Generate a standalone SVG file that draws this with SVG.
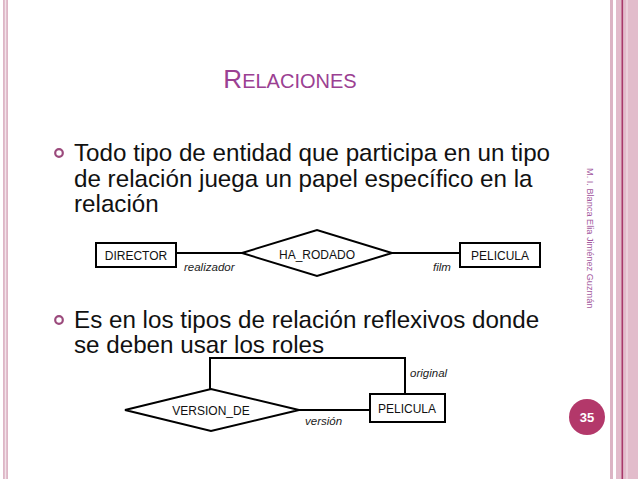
<svg xmlns="http://www.w3.org/2000/svg" width="638" height="479" viewBox="0 0 638 479">
<style>
.body{font-family:"Liberation Sans",Arial,sans-serif;font-size:24.2px;fill:#111}
.er{font-family:"Liberation Sans",Arial,sans-serif;font-size:12px;fill:#111}
.role{font-family:"Liberation Sans",Arial,sans-serif;font-size:11.5px;font-style:italic;fill:#222}
.shape{fill:#fff;stroke:#000;stroke-width:2}
.conn{fill:none;stroke:#000;stroke-width:2}
.bullet{fill:none;stroke:#9b4a7c;stroke-width:2.2}
</style>
<rect width="638" height="479" fill="#fff"/>
<!-- borders -->
<rect x="3" y="0" width="5" height="479" fill="#ddb6c6"/>
<rect x="4.8" y="0" width="1.4" height="479" fill="#f3e3ea"/>
<rect x="610" y="0" width="3" height="479" fill="#dcb4c4"/>
<rect x="616" y="0" width="22" height="479" fill="#e2bccb"/>
<rect x="621.5" y="0" width="1.6" height="479" fill="#a8386a"/>
<rect x="626" y="0" width="2" height="479" fill="#ebd0db"/>
<!-- title -->
<text x="290" y="88" text-anchor="middle" font-family="'Liberation Sans',Arial,sans-serif" fill="#9b4092" font-size="20"><tspan font-size="26">R</tspan>ELACIONES</text>
<!-- bullets -->
<circle class="bullet" cx="59" cy="153" r="3.8"/>
<text class="body" x="74" y="161">Todo tipo de entidad que participa en un tipo</text>
<text class="body" x="74" y="187">de relación juega un papel específico en la</text>
<text class="body" x="74" y="212">relación</text>
<circle class="bullet" cx="59" cy="320" r="3.8"/>
<text class="body" x="74" y="328">Es en los tipos de relación reflexivos donde</text>
<text class="body" x="74" y="353">se deben usar los roles</text>
<!-- side text -->
<text transform="translate(587,168) rotate(90)" font-family="'Liberation Sans',Arial,sans-serif" font-size="9.2" fill="#a45aa0">M. I. Blanca Elia Jiménez Guzmán</text>
<circle cx="587" cy="417" r="18" fill="#b3386a"/>
<text x="587" y="422" text-anchor="middle" font-family="'Liberation Sans',Arial,sans-serif" font-size="13" font-weight="bold" fill="#fff">35</text>
<!-- connectors -->
<g id="connectors">
<line class="conn" x1="176" y1="253" x2="242" y2="253"/>
<line class="conn" x1="392" y1="253" x2="460" y2="253"/>
<polyline class="conn" points="210,389 210,358 405,358 405,394"/>
<line class="conn" x1="299" y1="410" x2="370" y2="410"/>
</g>
<g id="director">
<rect class="shape" x="96" y="243" width="80" height="24"/>
<text class="er" x="136" y="260" text-anchor="middle">DIRECTOR</text>
</g>
<g id="ha_rodado">
<polygon class="shape" points="242,253 317,230 392,253 317,276"/>
<text class="er" x="317" y="259" text-anchor="middle">HA_RODADO</text>
</g>
<g id="pelicula1">
<rect class="shape" x="460" y="243" width="80" height="24"/>
<text class="er" x="500" y="260" text-anchor="middle">PELICULA</text>
</g>
<text class="role" x="184" y="271">realizador</text>
<text class="role" x="433" y="271">film</text>
<g id="version_de">
<polygon class="shape" points="125,410 211,389 299,410 211,431"/>
<text class="er" x="211" y="415" text-anchor="middle">VERSION_DE</text>
</g>
<g id="pelicula2">
<rect class="shape" x="370" y="394" width="75" height="28"/>
<text class="er" x="407" y="413" text-anchor="middle">PELICULA</text>
</g>
<text class="role" x="305" y="425">versión</text>
<text class="role" x="410" y="377">original</text>
</svg>
